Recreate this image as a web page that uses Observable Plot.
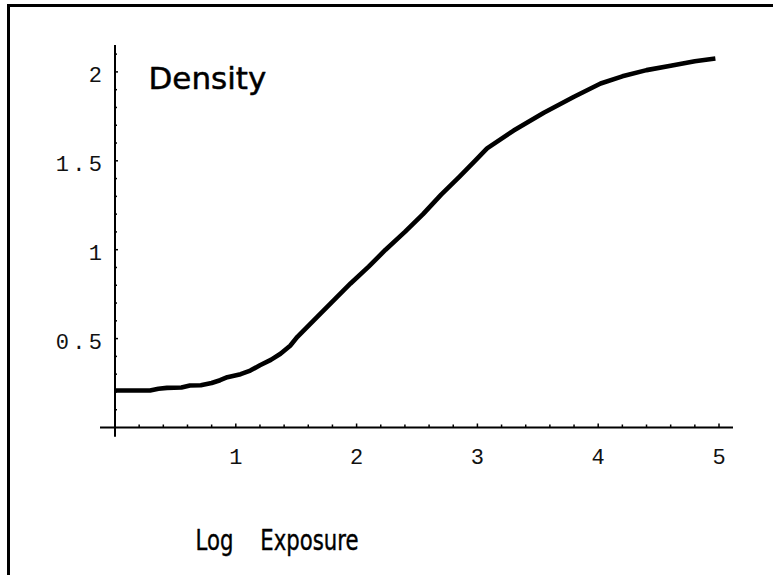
<!DOCTYPE html>
<html>
<head>
<meta charset="utf-8">
<script src="https://cdn.jsdelivr.net/npm/d3@7"></script>
<script src="https://cdn.jsdelivr.net/npm/@observablehq/plot@0.6"></script>
<style>
  html, body { margin: 0; padding: 0; background: #fff; }
  #wrap { position: relative; width: 773px; height: 575px; overflow: hidden; }
  #border { position: absolute; left: 7px; top: 4px; width: 800px; height: 600px;
            border-left: 3px solid #000; border-top: 3px solid #000; }
  #chart { position: absolute; left: 0; top: 0; }
  #chart svg { overflow: visible; }
</style>
</head>
<body>
<div id="wrap"><div id="border"></div><div id="chart"></div></div>
<script>
// Characteristic curve: density vs log exposure
const logExposure = [0, 0.29, 0.36, 0.43, 0.55, 0.62, 0.71, 0.8, 0.87, 0.93, 1.04, 1.12, 1.2, 1.29,
  1.37, 1.45, 1.51, 1.67, 1.81, 1.95, 2.1, 2.24, 2.4, 2.55, 2.7, 2.85, 2.98, 3.08, 3.3, 3.55,
  3.8, 4.02, 4.2, 4.4, 4.6, 4.8, 4.97];
const density = [0.208, 0.208, 0.218, 0.223, 0.225, 0.236, 0.238, 0.25, 0.266, 0.283, 0.30, 0.32,
  0.35, 0.38, 0.415, 0.46, 0.51, 0.62, 0.715, 0.81, 0.905, 1.0, 1.1, 1.2, 1.31, 1.41, 1.5, 1.57,
  1.67, 1.77, 1.86, 1.935, 1.975, 2.01, 2.035, 2.06, 2.075];

const xMajorTicks = [1, 2, 3, 4, 5];
const xTickLabels = ["1", "2", "3", "4", "5"];
const xMinorTicks = [0.2, 0.4, 0.6, 0.8, 1.2, 1.4, 1.6, 1.8, 2.2, 2.4, 2.6, 2.8, 3.2, 3.4, 3.6, 3.8,
  4.2, 4.4, 4.6, 4.8];
const yMajorTicks = [0.5, 1, 1.5, 2];
const yTickLabels = ["0.5", "1", "1.5", "2"];
const yMinorTicks = [0.1, 0.2, 0.3, 0.4, 0.6, 0.7, 0.8, 0.9, 1.1, 1.2, 1.3, 1.4, 1.6, 1.7, 1.8,
  1.9, 2.1];

const yAxisLabel = "Density";
const xAxisLabel = "Log    Exposure";

const curve = logExposure.map((x, i) => ({x, y: density[i]}));
const xTicks = xMajorTicks.map((v, i) => ({v, label: xTickLabels[i]}));
const yTicks = yMajorTicks.map((v, i) => ({v, label: yTickLabels[i]}));

const tickFont = {fontFamily: "Liberation Mono", fontSize: 22};

const chart = Plot.plot({
  width: 773,
  height: 575,
  marginLeft: 114.5,
  marginRight: 54.5,
  marginTop: 71.4,
  marginBottom: 148,
  x: {domain: [0, 5], axis: null},
  y: {domain: [0, 2], axis: null},
  style: {background: "transparent"},
  marks: [
    // axes crossing at the origin
    Plot.ruleY([0], {x1: -0.12, x2: 5.12, stroke: "#000", strokeWidth: 2}),
    Plot.ruleX([0], {y1: -0.055, y2: 2.148, stroke: "#000", strokeWidth: 2}),
    // inward tick marks
    Plot.axisX({ticks: xMinorTicks, tickSize: -2.5, tickFormat: () => "", strokeWidth: 1.5}),
    Plot.axisX({ticks: xMajorTicks, tickSize: -3.5, tickFormat: () => "", strokeWidth: 1.5}),
    Plot.axisY({ticks: yMinorTicks, tickSize: -2.5, tickFormat: () => "", strokeWidth: 1.5}),
    Plot.axisY({ticks: yMajorTicks, tickSize: -3.5, tickFormat: () => "", strokeWidth: 1.5}),
    // tick labels
    Plot.text(xTicks, {x: "v", y: 0, text: "label", dy: 29, ...tickFont, fill: "#111"}),
    Plot.text(yTicks, {x: 0, y: "v", text: "label", dx: -13, dy: 3, textAnchor: "end", ...tickFont, fill: "#111"}),
    // the curve
    Plot.line(curve, {x: "x", y: "y", stroke: "#000", strokeWidth: 4.6, strokeLinejoin: "round", strokeLinecap: "butt"}),
    // labels
    Plot.text([yAxisLabel], {frameAnchor: "top-left", dx: 33.5, dy: 16.6, lineAnchor: "bottom",
      textAnchor: "start", fontFamily: "DejaVu Sans", fontSize: 31, fill: "#000",
      stroke: "#000", strokeWidth: 0.5}),
    Plot.text([xAxisLabel], {frameAnchor: "bottom-left", dx: 162, dy: 122, lineAnchor: "bottom",
      textAnchor: "middle", fontFamily: "DejaVu Sans", fontSize: 27.5, fill: "#000",
      stroke: "#000", strokeWidth: 0.4})
  ]
});

document.getElementById("chart").appendChild(chart);

// multi-character tick labels are spaced out like a wide monospace face; the axis title is condensed
d3.select(chart).selectAll("text").each(function() {
  const t = d3.select(this);
  const s = t.text();
  if (yTickLabels.includes(s) && s.length > 1) {
    t.attr("letter-spacing", "3.3px").attr("dx", 3.3);
  }
  if (s === xAxisLabel) {
    t.style("white-space", "pre").attr("textLength", 163).attr("lengthAdjust", "spacingAndGlyphs");
  }
});
</script>
</body>
</html>
